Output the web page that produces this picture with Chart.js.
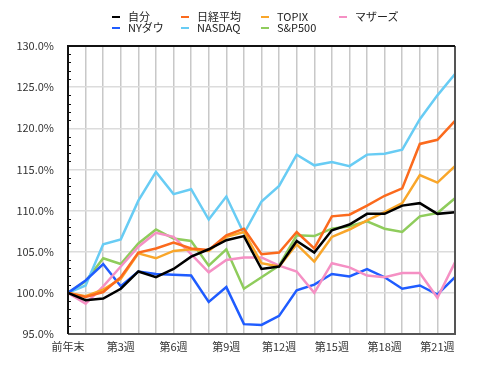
<!DOCTYPE html>
<html>
<head>
<meta charset="utf-8">
<script src="https://cdn.jsdelivr.net/npm/chart.js@4/dist/chart.umd.min.js"></script>
<style>
    body { margin: 0; background: #fff; }
    #wrap { position: relative; width: 480px; height: 375px; }
    #legend { position: absolute; left: 0; top: 0; width: 480px; height: 40px;
        font-family: "Noto Sans CJK JP", "Noto Sans", sans-serif; font-size: 11px; color: #222; }
    .item { position: absolute; line-height: 11px; white-space: nowrap; }
    .mark { position: absolute; width: 8px; height: 2px; top: 5px; left: -16px; }
</style>
</head>
<body>
<div id="wrap">
    <canvas id="chart" width="480" height="375"></canvas>
    <div id="legend"></div>
</div>
<script>
const weeks = ["前年末"];
for (let i = 1; i <= 22; i++) weeks.push(`第${i}週`);

const jibun   = [100, 99.1, 99.3, 100.5, 102.6, 101.9, 102.9, 104.4, 105.3, 106.4, 106.9, 102.9, 103.2, 106.3, 104.9, 107.6, 108.3, 109.6, 109.6, 110.6, 110.9, 109.6, 109.8];
const nikkei  = [100, 99.5, 100.1, 101.9, 104.9, 105.4, 106.1, 105.4, 105.2, 107.0, 107.8, 104.7, 104.9, 107.4, 105.4, 109.3, 109.5, 110.6, 111.8, 112.7, 118.1, 118.6, 120.9];
const topix   = [100, 99.6, 100.4, 101.7, 104.8, 104.2, 105.1, 105.3, 105.1, 106.8, 107.4, 103.6, 103.2, 105.9, 103.8, 106.8, 107.7, 108.8, 109.8, 110.9, 114.3, 113.4, 115.4];
const mothers = [100, 98.7, 100.8, 103.2, 105.6, 107.3, 106.8, 104.7, 102.5, 104.0, 104.3, 104.3, 103.3, 102.6, 100.0, 103.6, 103.1, 102.1, 101.9, 102.4, 102.4, 99.4, 103.7];
const nydow   = [100, 101.5, 103.5, 100.8, 102.6, 102.3, 102.2, 102.1, 98.9, 100.7, 96.2, 96.1, 97.2, 100.3, 101.0, 102.3, 102.0, 102.9, 101.9, 100.5, 100.9, 99.8, 101.9];
const nasdaq  = [100, 100.9, 105.9, 106.5, 111.2, 114.7, 112.0, 112.6, 108.9, 111.7, 107.2, 111.1, 113.0, 116.8, 115.5, 115.9, 115.4, 116.8, 116.9, 117.4, 121.1, 124.0, 126.6];
const sp500   = [100, 101.4, 104.2, 103.5, 106.0, 107.7, 106.6, 106.3, 103.3, 105.3, 100.5, 101.9, 103.3, 107.0, 106.9, 107.8, 108.1, 108.7, 107.8, 107.4, 109.3, 109.7, 111.5];

const series = [
    { label: "自分", data: jibun, color: "#000000" },
    { label: "日経平均", data: nikkei, color: "#fb6a1d" },
    { label: "TOPIX", data: topix, color: "#f9a62a" },
    { label: "マザーズ", data: mothers, color: "#f590c4" },
    { label: "NYダウ", data: nydow, color: "#1f5cff" },
    { label: "NASDAQ", data: nasdaq, color: "#68ccf4" },
    { label: "S&P500", data: sp500, color: "#8fcc5c" }
];

// legend laid out in fixed columns like the original
const legendPos = [[128, 11], [197, 11], [277, 11], [355, 11], [128, 22], [197, 22], [277, 22]];
const legend = document.getElementById("legend");
series.forEach((s, i) => {
    const div = document.createElement("div");
    div.className = "item";
    div.style.left = legendPos[i][0] + "px";
    div.style.top = legendPos[i][1] + "px";
    div.innerHTML = `<span class="mark" style="background:${s.color}"></span>${s.label}`;
    legend.appendChild(div);
});

const frame = {
    id: "frame",
    afterDraw(chart) {
        const { ctx, chartArea: a } = chart;
        const y = chart.scales.y;
        ctx.save();
        ctx.lineWidth = 1;
        ctx.strokeStyle = "#111";
        for (let v = 96; v < 130; v++) {
            if (v % 5 === 0) continue;
            const py = Math.round(y.getPixelForValue(v)) + 0.5;
            ctx.beginPath();
            ctx.moveTo(a.left, py);
            ctx.lineTo(a.left + 3, py);
            ctx.stroke();
        }
        ctx.lineWidth = 2;
        ctx.strokeStyle = "#555";
        ctx.beginPath();
        ctx.moveTo(a.right, a.top);
        ctx.lineTo(a.right, a.bottom);
        ctx.lineTo(a.left, a.bottom);
        ctx.stroke();
        ctx.strokeStyle = "#111";
        ctx.beginPath();
        ctx.moveTo(a.left, a.bottom);
        ctx.lineTo(a.left, a.top);
        ctx.lineTo(a.right, a.top);
        ctx.stroke();
        ctx.restore();
    }
};

const font = { family: '"Noto Sans CJK JP", "Noto Sans", sans-serif', size: 11 };

new Chart(document.getElementById("chart"), {
    type: "line",
    data: {
        labels: weeks,
        datasets: series.map(s => ({
            label: s.label,
            data: s.data,
            borderColor: s.color,
            backgroundColor: s.color,
            borderWidth: 2.5,
            pointRadius: 0,
            tension: 0
        }))
    },
    options: {
        responsive: false,
        animation: false,
        layout: { padding: { top: 46, right: 25, left: 0, bottom: 0 } },
        plugins: { legend: { display: false }, tooltip: { enabled: false } },
        scales: {
            x: {
                grid: { color: "#c8c8c8", lineWidth: 1.5, drawTicks: false },
                border: { display: false },
                ticks: {
                    autoSkip: false, maxRotation: 0, padding: 6, color: "#333", font,
                    callback: (v, i) => i % 3 === 0 ? weeks[i] : ""
                },
                afterFit: s => { s.height = 41; }
            },
            y: {
                min: 95, max: 130,
                grid: {
                    drawTicks: false, lineWidth: 1.5,
                    color: c => c.tick && c.tick.value % 5 === 0 ? "#dcdcdc" : "rgba(0,0,0,0)"
                },
                border: { display: false },
                ticks: {
                    stepSize: 1, autoSkip: false, padding: 14, color: "#333", font,
                    callback: v => v % 5 === 0 ? v.toFixed(1) + "%" : ""
                },
                afterFit: s => { s.width = 68; }
            }
        }
    },
    plugins: [frame]
});
</script>
</body>
</html>
